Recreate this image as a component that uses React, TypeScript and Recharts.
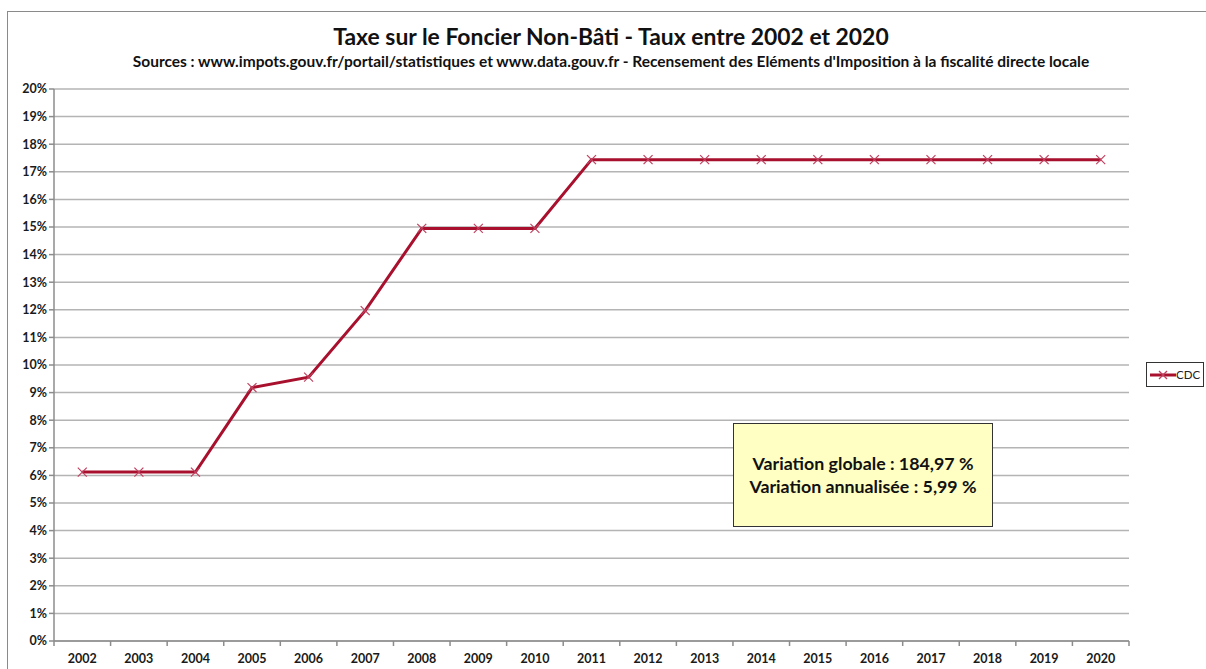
import { LineChart, Line, XAxis, YAxis, CartesianGrid } from 'recharts';

const years = [
  '2002', '2003', '2004', '2005', '2006', '2007', '2008', '2009', '2010', '2011',
  '2012', '2013', '2014', '2015', '2016', '2017', '2018', '2019', '2020',
];

// taux CDC (%)
const cdc = [
  6.12, 6.12, 6.12, 9.18, 9.56, 11.97, 14.95, 14.95, 14.95, 17.44,
  17.44, 17.44, 17.44, 17.44, 17.44, 17.44, 17.44, 17.44, 17.44,
];

const yTicks = [0, 1, 2, 3, 4, 5, 6, 7, 8, 9, 10, 11, 12, 13, 14, 15, 16, 17, 18, 19, 20];

const data = years.map((year, i) => ({ year, cdc: cdc[i] }));

const W = 1206;
const H = 669;
const PLOT_LEFT = 54;
const PLOT_RIGHT = 1129;
const STEP = (PLOT_RIGHT - PLOT_LEFT) / years.length;
const RED = '#a8102d';
const FONT = 'Lato, "Open Sans", sans-serif';

function XTick(props: any) {
  const { x, y, payload, index } = props;
  const last = index === years.length - 1;
  return (
    <g>
      <line x1={x - STEP / 2} x2={x - STEP / 2} y1={y - 8} y2={y - 3} stroke="#8c8c8c" strokeWidth={1.5} />
      {last && (
        <line x1={x + STEP / 2} x2={x + STEP / 2} y1={y - 8} y2={y - 3} stroke="#8c8c8c" strokeWidth={1.5} />
      )}
      <text x={x} y={y + 14} textAnchor="middle" fontSize={12.5} fontWeight={700} fill="#1a1a1a" fontFamily={FONT}>
        {payload.value}
      </text>
    </g>
  );
}

function Cross(props: any) {
  const { cx, cy } = props;
  if (cx == null || cy == null) return null;
  const s = 4.5;
  return (
    <g stroke="#c04060" strokeWidth={1.2}>
      <line x1={cx - s} y1={cy - s} x2={cx + s} y2={cy + s} />
      <line x1={cx - s} y1={cy + s} x2={cx + s} y2={cy - s} />
    </g>
  );
}

export default function App() {
  return (
    <div style={{ position: 'absolute', left: 0, top: 0, width: W, height: H, background: '#fff', overflow: 'hidden', fontFamily: FONT }}>
      <div style={{ position: 'absolute', left: 7, top: 11, width: W, height: H, border: '1px solid #8a8a8a' }} />
      <div style={{ position: 'absolute', left: 0, width: 1222, top: 22, textAlign: 'center', fontSize: 22.9, fontWeight: 700, color: '#111' }}>
        Taxe sur le Foncier Non-Bâti - Taux entre 2002 et 2020
      </div>
      <div style={{ position: 'absolute', left: 0, width: 1222, top: 52, textAlign: 'center', fontSize: 15.5, fontWeight: 700, color: '#111' }}>
        Sources : www.impots.gouv.fr/portail/statistiques et www.data.gouv.fr - Recensement des Eléments d'Imposition à la fiscalité directe locale
      </div>
      <div style={{ position: 'absolute', left: 0, top: 0 }}>
        <LineChart width={W} height={H} data={data} margin={{ top: 89, right: W - PLOT_RIGHT, left: 0, bottom: 0 }}>
          <CartesianGrid vertical={false} stroke="#b4b4b4" strokeWidth={1.5} />
          <XAxis
            dataKey="year"
            height={28}
            padding={{ left: STEP / 2, right: STEP / 2 }}
            axisLine={{ stroke: '#8c8c8c', strokeWidth: 1.5 }}
            tickLine={false}
            tick={<XTick />}
            interval={0}
          />
          <YAxis
            width={PLOT_LEFT}
            domain={[0, 20]}
            ticks={yTicks}
            interval={0}
            tickFormatter={(v) => `${v}%`}
            axisLine={{ stroke: '#8c8c8c', strokeWidth: 1.5 }}
            tickLine={{ stroke: '#8c8c8c', strokeWidth: 1.5 }}
            tickSize={5}
            tick={{ fontSize: 12.5, fontWeight: 700, fill: '#1a1a1a', fontFamily: FONT }}
          />
          <Line
            type="linear"
            dataKey="cdc"
            stroke={RED}
            strokeWidth={3}
            dot={<Cross />}
            activeDot={false}
            isAnimationActive={false}
          />
        </LineChart>
      </div>
      <div
        style={{
          position: 'absolute', left: 733, top: 423, width: 258, height: 102,
          background: '#ffffc4', border: '1.5px solid #333',
          display: 'flex', flexDirection: 'column', justifyContent: 'center', alignItems: 'center',
          fontSize: 17.8, fontWeight: 700, color: '#111', lineHeight: '23px',
        }}
      >
        <div>Variation globale : 184,97 %</div>
        <div>Variation annualisée : 5,99 %</div>
      </div>
      <div
        style={{
          position: 'absolute', left: 1146, top: 362, width: 56, height: 23,
          border: '1px solid #333', background: '#fff', display: 'flex', alignItems: 'center',
          fontSize: 11.5, color: '#222',
        }}
      >
        <svg width={26} height={12} style={{ marginLeft: 3 }}>
          <line x1={0} y1={6} x2={26} y2={6} stroke={RED} strokeWidth={3} />
          <line x1={9} y1={2} x2={17} y2={10} stroke="#c04060" strokeWidth={1.2} />
          <line x1={9} y1={10} x2={17} y2={2} stroke="#c04060" strokeWidth={1.2} />
        </svg>
        <span>CDC</span>
      </div>
    </div>
  );
}
